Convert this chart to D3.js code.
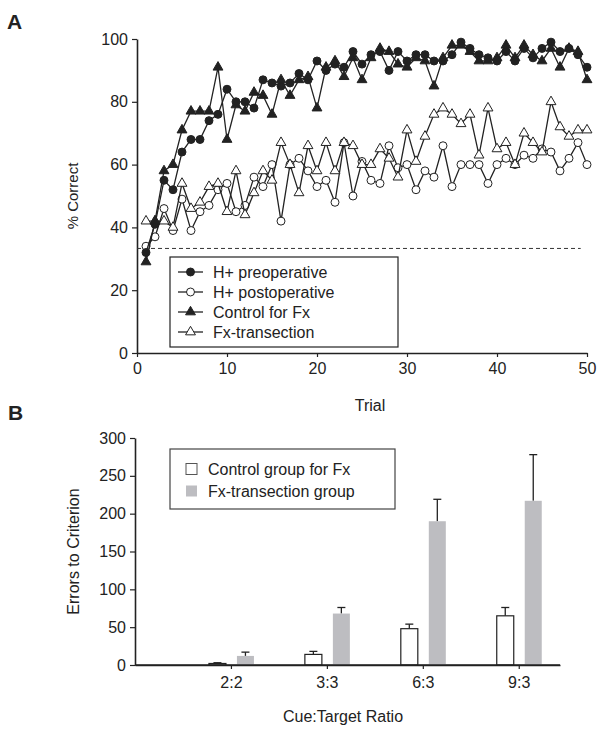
<!DOCTYPE html>
<html><head><meta charset="utf-8">
<script src="https://cdn.jsdelivr.net/npm/d3@7"></script>
<style>body{margin:0;background:#fff}svg{display:block;font-family:"Liberation Sans",Arial,sans-serif}</style>
</head><body>
<script>
// ---------- Panel A data ----------
const trials = d3.range(1, 51);
const hPre  = [32,41,55,52,64,68,68,74,76,84,80,80,78,87,86,85,86,89,87,93,90,92,91,96,92,95,96,90,96,93,95,95,93,93,95,99,97,95,94,93,96,93,97,94,97,99,96,97,95,91];
const hPost = [34,37,46,39,49,39,45,47,52,54,45,47,56,53,60,42,60,62,58,53,55,48,67,50,61,55,54,66,59,60,52,58,56,66,53,60,60,60,54,60,62,60,63,62,65,64,58,62,67,60];
const ctrlFx = [29,42,58,60,71,77,77,77,91,68,79,77,83,82,76,87,82,87,88,78,91,93,88,94,87,94,97,96,92,91,94,93,85,94,98,98,96,93,93,94,98,94,98,95,93,97,91,97,96,87];
const fxTrans = [42,42,42,40,54,46,48,53,54,45,58,44,51,58,55,67,60,51,66,58,67,58,67,66,60,60,65,62,56,71,61,69,76,78,76,73,76,63,78,65,67,60,70,67,64,80,72,69,71,71];
const seriesNames = ["H+ preoperative","H+ postoperative","Control for Fx","Fx-transection"];
const chanceLevel = 33.3;
const xTicksA = [0,10,20,30,40,50];
const yTicksA = [0,20,40,60,80,100];

// ---------- Panel B data ----------
const ratios = ["2:2","3:3","6:3","9:3"];
const ctrlErrors = [2,14,48,65];
const ctrlSem = [1,4,6,11];
const fxErrors = [12,68,190,217];
const fxSem = [5,8,29,61];
const barSeries = ["Control group for Fx","Fx-transection group"];
const yTicksB = [0,50,100,150,200,250,300];

const W = 603, H = 734;
const svg = d3.select("body").append("svg").attr("width", W).attr("height", H);
svg.append("rect").attr("width", W).attr("height", H).attr("fill", "#fff");
const ink = "#222";

// ================= Panel A =================
const xA = d3.scaleLinear().domain([0, 50]).range([137, 587]);
const yA = d3.scaleLinear().domain([0, 100]).range([353, 39]);

svg.append("text").attr("x", 7).attr("y", 29).text("A")
  .attr("font-size", 21).attr("font-weight", "bold").attr("fill", ink);

const axA_x = svg.append("g").attr("transform", `translate(0,${yA(0)})`)
  .call(d3.axisBottom(xA).tickValues(xTicksA).tickSize(4).tickSizeOuter(0).tickPadding(6));
const axA_y = svg.append("g").attr("transform", `translate(${xA(0)},0)`)
  .call(d3.axisLeft(yA).tickValues(yTicksA).tickSize(5).tickSizeOuter(0).tickPadding(4));
[axA_x, axA_y, ].forEach(g => {
  g.selectAll("path").attr("stroke", ink).attr("stroke-width", 1.6);
  g.selectAll("line").attr("stroke", ink).attr("stroke-width", 1.2);
  g.selectAll("text").attr("font-size", 16).attr("fill", ink).attr("font-family", "Liberation Sans, Arial, sans-serif");
});

svg.append("text").attr("transform", `translate(78,${(yA(0)+yA(100))/2}) rotate(-90)`)
  .attr("text-anchor", "middle").attr("font-size", 15).attr("fill", ink).text("% Correct");
svg.append("text").attr("x", 370).attr("y", 411).attr("text-anchor", "middle")
  .attr("font-size", 16).attr("fill", ink).text("Trial");

// chance line
svg.append("line").attr("x1", xA(0)).attr("x2", xA(49.3))
  .attr("y1", yA(chanceLevel)).attr("y2", yA(chanceLevel))
  .attr("stroke", "#333").attr("stroke-width", 1).attr("stroke-dasharray", "4,3");

const seriesData = [
  {name: seriesNames[0], vals: hPre, shape: "circle", fill: ink},
  {name: seriesNames[1], vals: hPost, shape: "circle", fill: "#fff"},
  {name: seriesNames[2], vals: ctrlFx, shape: "triangle", fill: ink},
  {name: seriesNames[3], vals: fxTrans, shape: "triangle", fill: "#fff"}
];
const line = d3.line().x((d, i) => xA(trials[i])).y(d => yA(d));
const symC = d3.symbol().type(d3.symbolCircle).size(50);
const symT = d3.symbol().type(d3.symbolTriangle).size(42);

const drawOrder = [1, 3, 0, 2];
drawOrder.forEach(k => {
  const s = seriesData[k];
  const g = svg.append("g");
  g.append("path").datum(s.vals).attr("d", line).attr("fill", "none")
    .attr("stroke", ink).attr("stroke-width", 1.3);
  g.selectAll("path.m").data(s.vals).enter().append("path").attr("class", "m")
    .attr("d", s.shape === "circle" ? symC : symT)
    .attr("transform", (d, i) => `translate(${xA(trials[i])},${yA(d)})`)
    .attr("fill", s.fill).attr("stroke", ink).attr("stroke-width", 1);
});

// legend A
const legA = svg.append("g");
legA.append("rect").attr("x", 170).attr("y", 257).attr("width", 228).attr("height", 90)
  .attr("fill", "#fff").attr("stroke", ink).attr("stroke-width", 1.2);
seriesData.forEach((s, i) => {
  const cy = 272 + i * 20;
  legA.append("line").attr("x1", 178).attr("x2", 203).attr("y1", cy).attr("y2", cy)
    .attr("stroke", ink).attr("stroke-width", 1.3);
  legA.append("path").attr("d", s.shape === "circle" ? symC : symT)
    .attr("transform", `translate(190.5,${cy})`).attr("fill", s.fill).attr("stroke", ink).attr("stroke-width", 1);
  legA.append("text").attr("x", 213).attr("y", cy + 6).attr("font-size", 16).attr("fill", ink).text(s.name);
});

// ================= Panel B =================
const xB = d3.scaleLinear().domain([0, 4.43]).range([135, 560]);
const yB = d3.scaleLinear().domain([0, 300]).range([665, 438]);

svg.append("text").attr("x", 8).attr("y", 420).text("B")
  .attr("font-size", 21).attr("font-weight", "bold").attr("fill", ink);

const axB_x = svg.append("g").attr("transform", `translate(0,${yB(0)})`)
  .call(d3.axisBottom(xB).tickValues([1,2,3,4]).tickFormat((d) => ratios[d-1]).tickSize(4).tickSizeOuter(0).tickPadding(8));
const axB_y = svg.append("g").attr("transform", `translate(${xB(0)},0)`)
  .call(d3.axisLeft(yB).tickValues(yTicksB).tickSize(5).tickSizeOuter(0).tickPadding(4));
[axB_x, axB_y].forEach(g => {
  g.selectAll("path").attr("stroke", ink).attr("stroke-width", 1.6);
  g.selectAll("line").attr("stroke", ink).attr("stroke-width", 1.2);
  g.selectAll("text").attr("font-size", 16).attr("fill", ink).attr("font-family", "Liberation Sans, Arial, sans-serif");
});

svg.append("text").attr("transform", `translate(79,${(yB(0)+yB(300))/2}) rotate(-90)`)
  .attr("text-anchor", "middle").attr("font-size", 16).attr("fill", ink).text("Errors to Criterion");
svg.append("text").attr("x", 343).attr("y", 722).attr("text-anchor", "middle")
  .attr("font-size", 16).attr("fill", ink).text("Cue:Target Ratio");

const barW = 17;
const groups = [
  {vals: ctrlErrors, sem: ctrlSem, off: -22, fill: "#fff", stroke: ink},
  {vals: fxErrors, sem: fxSem, off: 6, fill: "#bdbdc1", stroke: "none"}
];
groups.forEach(gr => {
  const g = svg.append("g");
  ratios.forEach((r, i) => {
    const x0 = xB(i + 1) + gr.off;
    const top = yB(gr.vals[i] + gr.sem[i]);
    g.append("line").attr("x1", x0 + barW/2).attr("x2", x0 + barW/2)
      .attr("y1", yB(gr.vals[i])).attr("y2", top).attr("stroke", ink).attr("stroke-width", 1.3);
    g.append("line").attr("x1", x0 + barW/2 - 4).attr("x2", x0 + barW/2 + 4)
      .attr("y1", top).attr("y2", top).attr("stroke", ink).attr("stroke-width", 1.3);
    g.append("rect").attr("x", x0).attr("width", barW)
      .attr("y", yB(gr.vals[i])).attr("height", yB(0) - yB(gr.vals[i]))
      .attr("fill", gr.fill).attr("stroke", gr.stroke).attr("stroke-width", 1.2);
  });
});
// redraw baseline on top
svg.append("line").attr("x1", xB(0)).attr("x2", xB(4.43)).attr("y1", yB(0)).attr("y2", yB(0))
  .attr("stroke", ink).attr("stroke-width", 1.6);

// legend B
const legB = svg.append("g");
legB.append("rect").attr("x", 170).attr("y", 449).attr("width", 225).attr("height", 60)
  .attr("fill", "#fff").attr("stroke", "#444").attr("stroke-width", 1.2);
barSeries.forEach((n, i) => {
  const cy = 469 + i * 22;
  legB.append("rect").attr("x", 186).attr("y", cy - 5.5).attr("width", 11).attr("height", 11)
    .attr("fill", i === 0 ? "#fff" : "#bdbdc1").attr("stroke", i === 0 ? "#555" : "none").attr("stroke-width", 1);
  legB.append("text").attr("x", 208).attr("y", cy + 6).attr("font-size", 16).attr("fill", ink).text(n);
});
</script>
</body></html>
